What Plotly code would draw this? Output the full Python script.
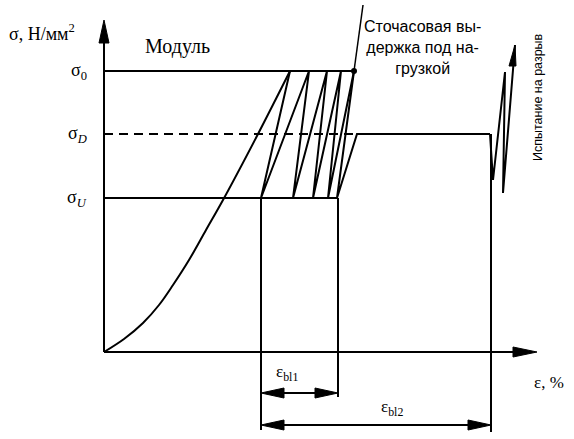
import plotly.graph_objects as go

# ---- data (strain units / stress units of the schematic) ----
level_names = ["σ<sub>0</sub>", "σ<sub><i>D</i></sub>", "σ<sub><i>U</i></sub>"]
level_values = [281, 218, 154]          # σ0, σD, σU

# initial loading curve ("Модуль")
load_eps = [0, 20, 39, 55, 69, 85, 102, 119, 154, 186]
load_sig = [0, 13, 29, 47, 67, 92, 122, 152, 218, 281]

# load / unload cycles between σU and σ0, then hold, then reload to σD
peak_eps = [186, 205, 223, 237, 250]
valley_eps = [157, 189, 209, 224, 233]
creep_top = [259, 347]                  # hundred-hour hold line end
plateau_eps = [253, 386]                # hold at σD
break_eps = [386, 389, 401, 399, 411]   # final rupture test
break_sig = [218, 172, 280, 159, 307]

eps_bl1 = [157, 234]
eps_bl2 = [157, 387]

BLACK = "#000000"
LW = 2

fig = go.Figure()

def line(x, y, width=LW, dash=None):
    fig.add_trace(go.Scatter(x=x, y=y, mode="lines",
                             line=dict(color=BLACK, width=width, dash=dash),
                             hoverinfo="skip", showlegend=False))

def tri(tip, base_c, half, horiz=True):
    tx, ty = tip
    bx, by = base_c
    if horiz:
        xs = [tx, bx, bx, tx]
        ys = [ty, by + half, by - half, ty]
    else:
        xs = [tx, bx - half, bx + half, tx]
        ys = [ty, by, by, ty]
    fig.add_trace(go.Scatter(x=xs, y=ys, mode="lines", fill="toself",
                             fillcolor=BLACK, line=dict(color=BLACK, width=1),
                             hoverinfo="skip", showlegend=False))

s0, sD, sU = level_values

# axes
line([0, 0], [0, 315])
tri((0, 332), (0, 309), 5, horiz=False)
line([0, 415], [0, 0])
tri((433, 0), (409, 0), 5)

# stress levels
line([0, 250], [s0, s0])
line([0, 253], [sD, sD], dash="9px,6px")
line([0, eps_bl1[1]], [sU, sU])

# loading curve
fig.add_trace(go.Scatter(x=load_eps, y=load_sig, mode="lines",
                         line=dict(color=BLACK, width=LW, shape="spline"),
                         hoverinfo="skip", showlegend=False))

# cycles
cx, cy = [], []
for i, p in enumerate(peak_eps):
    cx.append(p); cy.append(s0)
    if i < len(peak_eps) - 1:
        cx.append(valley_eps[i]); cy.append(sU)
line(cx, cy)
line([peak_eps[-1], creep_top[0]], [s0, creep_top[1]], width=1.5)
fig.add_trace(go.Scatter(x=[peak_eps[-1]], y=[s0], mode="markers",
                         marker=dict(color=BLACK, size=6),
                         hoverinfo="skip", showlegend=False))
# unload to σU and reload to σD, hold
line([peak_eps[-1], valley_eps[-1], plateau_eps[0], plateau_eps[1]],
     [s0, sU, sD, sD])
# rupture test
line(break_eps, break_sig)
tri((411, 307), (408.5, 286), 3.5, horiz=False)

# strain markers
line([eps_bl1[0], eps_bl1[0]], [sU, -78])
line([eps_bl1[1], eps_bl1[1]], [sU, -45])
line([eps_bl2[1], eps_bl2[1]], [sD, -80])

# dimension arrows
for (a, b), yy in [(eps_bl1, -41), (eps_bl2, -73)]:
    line([a + 20, b - 20], [yy, yy])
    tri((a, yy), (a + 23, yy), 5)
    tri((b, yy), (b - 23, yy), 5)

SERIF = "Liberation Serif"
SANS = "Liberation Sans"
ann = []
def text(t, x, y, size, font=SERIF, xanchor="center", angle=0):
    ann.append(dict(text=t, x=x, y=y, xref="x", yref="y", showarrow=False,
                    xanchor=xanchor, yanchor="middle", textangle=angle,
                    font=dict(family=font, size=size, color=BLACK)))

text("σ, Н/мм<sup>2</sup>", -62, 320, 18)
text("Модуль", 73, 306, 20)
for name, v in zip(level_names, level_values):
    text(name, -15, v, 18, xanchor="right")
text("Сточасовая вы-<br>держка под на-<br>грузкой", 318, 305, 16, font=SANS)
text("Испытание на разрыв", 434, 255, 12.5, font=SANS, angle=-90)
text("ε<sub>bl1</sub>", 183, -21, 17)
text("ε<sub>bl2</sub>", 288, -56, 17)
text("ε, %", 445, -30, 17)

fig.update_layout(
    width=574, height=439, autosize=False,
    margin=dict(l=0, r=0, t=0, b=0, pad=0),
    paper_bgcolor="white", plot_bgcolor="white",
    xaxis=dict(range=[-104, 470], visible=False, fixedrange=True),
    yaxis=dict(range=[-87, 352], visible=False, fixedrange=True),
    annotations=ann,
)

fig.write_html("out.html", config={"displayModeBar": False},
               post_script="document.body.style.margin='0';document.body.style.overflow='hidden';")
